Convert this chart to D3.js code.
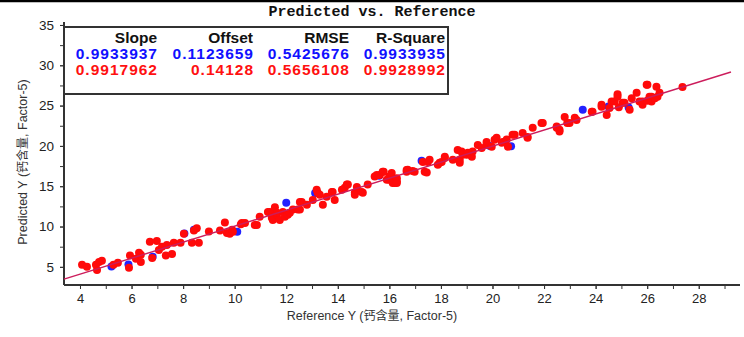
<!DOCTYPE html>
<html><head><meta charset="utf-8">
<script src="https://cdn.jsdelivr.net/npm/d3@7"></script>
<style>body{margin:0;background:#fff}svg{display:block}</style>
</head><body><svg id="c" width="744" height="337"></svg>
<script>
const xTicks=[4,6,8,10,12,14,16,18,20,22,24,26,28];
const yTicks=[5,10,15,20,25,30,35];
const statHeaders=["Slope","Offset","RMSE","R-Square"];
const statBlue=["0.9933937","0.1123659","0.5425676","0.9933935"];
const statRed=["0.9917962","0.14128","0.5656108","0.9928992"];
const fitSlope=0.9933937, fitOffset=0.1123659, fitRange=[3.38,29.25];
const redPts=[[4.08,5.25],[4.27,5.0],[4.62,5.25],[4.66,4.6],[4.74,5.6],[4.85,5.75],[5.3,5.25],[5.47,5.5],[5.9,4.9],[5.94,6.4],[6.17,6.0],[6.29,6.75],[6.36,6.5],[6.36,5.6],[6.8,6.1],[6.71,8.1],[6.98,8.2],[7.06,7.1],[7.18,7.5],[7.33,6.4],[7.37,7.7],[7.57,6.6],[7.64,8.0],[7.9,8.0],[8.03,9.1],[8.34,8.0],[8.42,9.5],[8.53,9.8],[8.61,8.0],[9.0,9.4],[9.43,9.5],[9.62,10.5],[9.7,9.2],[9.81,9.1],[9.9,9.6],[9.93,9.35],[10.24,10.3],[10.28,10.45],[10.4,10.45],[10.78,10.2],[10.86,10.2],[10.97,11.2],[11.29,11.8],[11.36,11.8],[11.44,11.1],[11.48,10.8],[11.56,12.4],[11.64,11.45],[11.64,11.7],[11.75,10.8],[11.87,11.8],[11.95,11.2],[12.06,11.45],[12.14,11.7],[12.26,12.1],[12.45,12.1],[12.53,13.05],[12.6,13.05],[12.53,12.1],[12.8,12.7],[13.03,13.3],[13.18,14.55],[13.22,14.2],[13.3,13.95],[13.42,12.7],[13.57,13.7],[13.77,14.3],[13.8,14.3],[13.88,13.3],[14.16,14.55],[14.27,14.8],[14.35,15.2],[14.39,15.2],[14.66,14.2],[14.66,13.95],[14.74,14.9],[14.93,14.3],[14.97,14.2],[15.16,15.2],[15.43,16.2],[15.51,16.4],[15.63,16.4],[15.74,16.8],[15.78,16.8],[15.9,15.8],[16.0,16.2],[16.0,15.8],[16.09,16.65],[16.13,15.4],[16.21,15.4],[16.29,15.6],[16.29,16.0],[16.29,15.4],[16.67,16.8],[16.67,17.0],[16.71,17.05],[16.9,16.9],[16.98,16.8],[17.3,18.0],[17.37,16.8],[17.45,16.7],[17.49,18.0],[17.56,18.3],[17.88,17.65],[17.95,17.9],[18.03,18.0],[18.15,18.5],[18.15,18.65],[18.46,18.3],[18.65,19.5],[18.73,17.9],[18.73,18.3],[18.8,19.3],[18.84,18.9],[19.0,18.9],[19.04,19.15],[19.2,18.65],[19.23,19.3],[19.43,20.1],[19.58,19.75],[19.77,20.1],[19.77,20.5],[19.97,19.9],[20.08,20.75],[20.16,21.0],[20.36,20.4],[20.4,20.5],[20.55,20.8],[20.6,19.9],[20.78,21.4],[20.86,21.4],[21.17,21.6],[21.36,21.0],[21.36,21.1],[21.56,22.25],[21.9,22.85],[21.95,22.85],[22.49,22.4],[22.49,22.25],[22.6,22.0],[22.6,21.8],[22.8,23.6],[22.9,22.85],[22.99,22.85],[23.19,23.5],[23.26,23.2],[23.85,24.25],[23.88,24.25],[24.23,25.1],[24.23,24.85],[24.43,23.85],[24.54,24.7],[24.62,25.5],[24.74,25.5],[24.85,26.4],[24.85,26.1],[25.05,25.35],[25.12,25.35],[25.32,24.5],[25.59,26.6],[25.7,25.5],[25.82,25.1],[25.82,25.5],[25.98,27.6],[26.01,27.6],[26.09,26.1],[26.17,26.1],[26.17,25.5],[26.36,27.35],[26.4,26.1],[26.48,26.6],[26.3,25.9],[26.0,25.6],[25.4,25.9],[24.9,24.8],[27.37,27.3]];
const bluePts=[[5.22,5.05],[5.88,5.3],[6.82,6.25],[8.05,9.15],[8.42,9.6],[10.1,9.35],[12.0,12.95],[13.12,14.15],[17.25,18.15],[20.72,19.95],[23.5,24.5],[25.28,24.75],[24.5,24.9],[15.6,16.3],[11.5,11.6],[19.9,20.0]];

const svg=d3.select("#c");
const x=d3.scaleLinear().domain([3.38,29.6]).range([64,740]);
const y=d3.scaleLinear().domain([2.75,35.37]).range([285,22]);
const font="Arial, 'Liberation Sans', sans-serif";

svg.append("line").attr("x1",0).attr("x2",744).attr("y1",1).attr("y2",1).attr("stroke","#000").attr("stroke-width",2.5);
svg.append("text").attr("x",372).attr("y",16).attr("text-anchor","middle")
  .attr("font-family","'Liberation Mono','Courier New',monospace").attr("font-weight","bold").attr("font-size",15).attr("fill","#111")
  .text("Predicted vs. Reference");

// axes
const gx=svg.append("g").attr("transform","translate(0,285)");
gx.call(d3.axisBottom(x).tickValues(d3.range(4,30,1)).tickSize(4).tickFormat(""));
gx.append("g").call(d3.axisBottom(x).tickValues(xTicks).tickSize(4).tickPadding(5).tickFormat(d3.format("d")));
gx.selectAll("path.domain").attr("stroke","#333").attr("stroke-width",2);
gx.selectAll(".tick line").attr("stroke","#333");
gx.selectAll("text").attr("font-family",font).attr("font-size",13).attr("fill","#222");
const gy=svg.append("g").attr("transform","translate(64,0)");
gy.call(d3.axisLeft(y).tickValues(d3.range(5,36,2.5)).tickSize(4).tickFormat(""));
gy.append("g").call(d3.axisLeft(y).tickValues(yTicks).tickSize(4).tickPadding(6).tickFormat(d3.format("d")));
gy.selectAll("path.domain").attr("stroke","#333").attr("stroke-width",2);
gy.selectAll(".tick line").attr("stroke","#333");
gy.selectAll("text").attr("font-family",font).attr("font-size",13.5).attr("fill","#222");
gx.selectAll("path.domain").attr("d","M64,0H740");
gy.selectAll("path.domain").attr("d","M0,22V285");

// points
const plot=svg.append("g");
plot.selectAll("circle.b").data(bluePts).join("circle").attr("cx",d=>x(d[0])).attr("cy",d=>y(d[1])).attr("r",4).attr("fill","#2222ff");
plot.selectAll("circle.r").data(redPts).join("circle").attr("cx",d=>x(d[0])).attr("cy",d=>y(d[1])).attr("r",4).attr("fill","#ff0a0a");
plot.append("line").attr("x1",x(fitRange[0])).attr("y1",y(fitSlope*fitRange[0]+fitOffset))
  .attr("x2",x(fitRange[1])).attr("y2",y(fitSlope*fitRange[1]+fitOffset)).attr("stroke","#cc1d5c").attr("stroke-width",1.4);

// legend box
svg.append("rect").attr("x",64).attr("y",27).attr("width",384).attr("height",67).attr("fill","#fff").attr("stroke","#333").attr("stroke-width",2);
const colX=[157,253,349,445];
statHeaders.forEach((h,i)=>{
  svg.append("text").attr("x",colX[i]).attr("y",43).attr("text-anchor","end").attr("font-family",font).attr("font-weight","bold").attr("font-size",15.5).attr("fill","#111").text(h);
  svg.append("text").attr("x",colX[i]+1).attr("y",59).attr("text-anchor","end").attr("font-family",font).attr("font-weight","bold").attr("font-size",15.5).attr("letter-spacing",1).attr("fill","#1010ff").text(statBlue[i]);
  svg.append("text").attr("x",colX[i]+1).attr("y",75).attr("text-anchor","end").attr("font-family",font).attr("font-weight","bold").attr("font-size",15.5).attr("letter-spacing",1).attr("fill","#ff1010").text(statRed[i]);
});

// axis titles
const xl=svg.append("text").attr("x",372).attr("y",320).attr("text-anchor","middle").attr("font-family",font).attr("font-size",12.5).attr("fill","#333");
xl.append("tspan").text("Reference Y (");
xl.append("tspan").attr("font-family","'Noto Sans CJK SC',serif").attr("font-size",12).text("钙含量");
xl.append("tspan").text(", Factor-5)");
const yl=svg.append("text").attr("transform","translate(27,162) rotate(-90)").attr("text-anchor","middle").attr("font-family",font).attr("font-size",12.5).attr("fill","#333");
yl.append("tspan").text("Predicted Y (");
yl.append("tspan").attr("font-family","'Noto Sans CJK SC',serif").attr("font-size",12).text("钙含量");
yl.append("tspan").text(", Factor-5)");
</script></body></html>
